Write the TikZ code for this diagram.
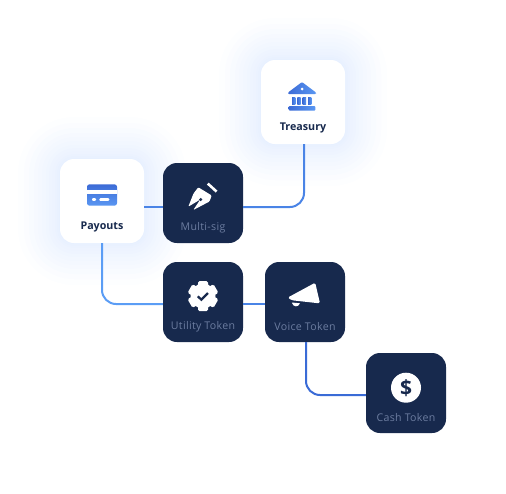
\documentclass[tikz,border=0pt]{standalone}
\usepackage{fontspec}
\setmainfont{Open Sans}
\newfontfamily\tokenfont[LetterSpace=3]{Open Sans}
\definecolor{navy}{HTML}{17294D}
\definecolor{mutedtxt}{HTML}{6C7DA0}
\definecolor{glowblue}{HTML}{8FB8FF}
\definecolor{linklight}{HTML}{5B9DF5}
\definecolor{linkmid}{HTML}{4A84E6}
\definecolor{linkdark}{HTML}{3A6BD6}
\definecolor{icondark}{HTML}{3C6BD6}
\definecolor{iconlight}{HTML}{5A97F2}
\begin{document}
\begin{tikzpicture}
	[x=1pt,y=-1pt,
	card/.style={rectangle,rounded corners=14pt,fill=white,minimum size=84pt,inner sep=0pt},
	token/.style={rectangle,rounded corners=14pt,fill=navy,minimum size=80pt,inner sep=0pt},
	boldtxt/.style={text=navy,font=\fontsize{10.7}{12}\selectfont\bfseries,inner sep=0pt},
	tokentxt/.style={text=mutedtxt,font=\fontsize{10.6}{12}\tokenfont,inner sep=0pt},
	link/.style={line width=2pt,rounded corners=14pt},
	glow/.style={fill=glowblue,opacity=.018}]
	\useasboundingbox (0,0) rectangle (506,493);
	
	\foreach \g in {1,3,5,8,11,14,18,22,26,31,36,42} {
		\fill[glow,rounded corners=14pt+\g pt] (261-\g,60-\g) rectangle (345+\g,144+\g);
		\fill[glow,rounded corners=14pt+\g pt] (60-\g,159-\g) rectangle (144+\g,243+\g);
	}
	
	\node[card] (treasury) at (303,102) {};
	\node[card] (payouts) at (102,201) {};
	\node[token] (multisig) at (203,203) {};
	\node[token] (utility) at (203,302) {};
	\node[token] (voice) at (305,302) {};
	\node[token] (cash) at (406,393) {};
	
	\node[boldtxt] (treasurytxt) at (303,127.5) {Treasury};
	\node[boldtxt] (payoutstxt) at (102,226.5) {Payouts};
	\node[tokentxt] (multisigtxt) at (203,227.5) {Multi-sig};
	\node[tokentxt] (utilitytxt) at (203,326.5) {Utility Token};
	\node[tokentxt] (voicetxt) at (305,326.5) {Voice Token};
	\node[tokentxt] (cashtxt) at (406,417.5) {Cash Token};
	
	\draw[link,linkmid] ([yshift=-6pt]payouts.east) -- ([yshift=-4pt]multisig.west);
	\draw[link,linkmid] ([yshift=-4pt]multisig.east) -| ([xshift=1pt]treasury.south);
	\draw[link,linklight] (payouts.south) |- ([yshift=-2pt]utility.west);
	\draw[link,linkmid] ([yshift=-2pt]utility.east) -- ([yshift=-2pt]voice.west);
	\draw[link,linkdark] ([xshift=1pt]voice.south) |- ([yshift=-2pt]cash.west);
	
	% bank
	\path[left color=icondark,right color=iconlight,rounded corners=1pt] (288,94) -- (288,92.5) -- (302,82) -- (316,92.5) -- (316,94) -- cycle;
	\fill[white] (302,89) circle (1.5);
	\foreach \c in {292,297.3,302.6,308}
		\path[left color=icondark,right color=iconlight] (\c,97) rectangle (\c+3.4,104);
	\path[left color=icondark,right color=iconlight,rounded corners=1pt] (288.7,106) rectangle (315.3,110.7);
	
	% payment card
	\path[top color=icondark,bottom color=iconlight,rounded corners=2.5pt] (87,184.3) rectangle (117,205.7);
	\fill[white] (87,190.3) rectangle (117,193.7);
	\fill[white,rounded corners=1pt] (92,198.2) rectangle (96,200.8);
	\fill[white,rounded corners=1pt] (99.3,198.2) rectangle (109.3,200.8);
	
	% pen nib
	\fill[white,rounded corners=1pt] (198.3,187.3) -- (211.7,195.5) -- (209.5,201.5) -- (193.3,210) -- (200.3,199.5) -- (188.3,206.7) -- (193.5,193.5) -- cycle;
	\fill[navy] (200.7,199.5) circle (1.7);
	\draw[white,line width=2.6pt] (207.8,183.6) -- (216.6,191.6);
	
	% gear
	\fill[white] (203,296) circle (12.5);
	\foreach \a in {0,60,...,300}
		\fill[white,rounded corners=1.5pt,rotate around={\a:(203,296)}] (198,296) rectangle (208,281);
	\draw[navy,line width=2.2pt] (197.8,296.3) -- (201.3,299.7) -- (208,293);
	
	% megaphone
	\fill[white,rounded corners=1.5pt] (287.7,297.6) -- (315.2,282.7) -- (320,303.4) -- (292,300.3) -- cycle;
	\fill[white] (291.8,302.5) .. controls (293,307.5) and (298.5,307.5) .. (300,303.3) -- cycle;
	
	% dollar
	\fill[white] (406,387.7) circle (15);
	\node[text=navy,font=\fontsize{21}{21}\selectfont\bfseries,inner sep=0pt] (dollar) at (406,387.7) {\$};
\end{tikzpicture}
\end{document}
